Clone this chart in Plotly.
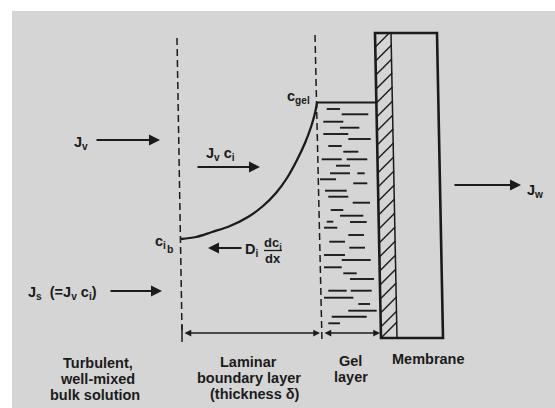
import plotly.graph_objects as go

# ---- diagram data (pixel coordinates of the reference drawing) ----
curve_x = [181, 196, 212, 230, 248, 263, 276, 287, 297, 305, 311, 315, 317]
curve_y = [239, 237, 232, 226, 217, 206, 193, 178, 160, 143, 127, 113, 103]

gel_x0 = [326.7, 341.7, 323.3, 340, 323.3, 348.3, 328.3, 343.3, 321.7, 346.7, 336, 330, 357.3,
          320, 353.3, 325, 328.3, 352.7, 330.7, 340, 326.7, 350, 324, 348.3, 329.3, 349.3,
          324, 341.7, 324, 343.3, 350, 328.3, 350.7, 324, 358.3, 348.3, 331.7, 328.3]
gel_x1 = [340, 368.3, 343.3, 359.3, 348.3, 370.7, 341.7, 358.3, 341.7, 367.3, 350, 350, 364.7,
          336, 367.3, 346.7, 348.3, 370, 343.3, 363.3, 333.3, 366.7, 337.3, 364, 345, 365,
          345, 370.7, 341.7, 356.7, 374, 346.7, 371.7, 353.3, 370, 376.7, 366.7, 340]
gel_y = [109, 114.3, 121.7, 127.7, 134, 139, 146, 151.7, 159.3, 159.3, 165.7, 173.3, 173.3,
         179.3, 183.3, 190.7, 196.7, 202.7, 210, 215.7, 221.7, 222, 227.7, 235, 241.7, 247.7,
         255, 260, 267.3, 273.3, 279, 290.7, 290.7, 297.7, 304, 310.7, 316.7, 323.3]

# lower ends (y) of the membrane hatch strokes
hatch_y = [47, 61, 75, 89, 103, 117, 131, 145, 159, 173, 187, 201, 215, 229, 243, 257,
           271, 285, 299, 313, 327, 338]

bottom_labels = [
    ("Turbulent,", 98, 363), ("well-mixed", 97, 379), ("bulk solution", 95, 395),
    ("Laminar", 248, 362), ("boundary layer", 249, 378), ("(thickness δ)", 255, 394),
    ("Gel", 350, 361), ("layer", 351, 377), ("Membrane", 428, 359),
]

INK = "#1b1b1b"
BG = "#d5d5d5"
FONT = dict(family="Liberation Sans, Arial, sans-serif", size=14, color=INK, weight="bold")

fig = go.Figure()

# curve c(x)
fig.add_trace(go.Scatter(x=curve_x, y=curve_y, mode="lines", line=dict(color=INK, width=2.3, shape="spline"),
                         hoverinfo="skip"))

# gel dashes
gx, gy = [], []
for a, b, y in zip(gel_x0, gel_x1, gel_y):
    gx += [a, b, None]
    gy += [y, y, None]
fig.add_trace(go.Scatter(x=gx, y=gy, mode="lines", line=dict(color=INK, width=1.9), hoverinfo="skip"))

# membrane hatch strip (slightly skewed as in the photo)
def left_edge(y):
    return 375 + 6 * (y - 33) / 305

hx, hy = [], []
for y0 in hatch_y:
    x0 = left_edge(y0)
    d = 16
    y1 = y0 - d
    if y1 < 33:
        d = y0 - 33
        y1 = 33
    hx += [x0, x0 + d, None]
    hy += [y0, y1, None]
fig.add_trace(go.Scatter(x=hx, y=hy, mode="lines", line=dict(color=INK, width=1.4), hoverinfo="skip"))

shapes = [
    dict(type="rect", x0=12, y0=11, x1=556, y1=409, fillcolor=BG, line=dict(width=0), layer="below"),
    # dashed boundaries
    dict(type="line", x0=177, y0=38, x1=182, y1=330, line=dict(color=INK, width=1.5, dash="7px,4px")),
    dict(type="line", x0=315, y0=35, x1=322, y1=342, line=dict(color=INK, width=1.5, dash="7px,4px")),
    dict(type="line", x0=182, y0=325, x1=182, y1=342, line=dict(color=INK, width=1.5)),
    # gel top
    dict(type="line", x0=316, y0=102.5, x1=377, y1=102.5, line=dict(color=INK, width=2)),
    # hatch strip right edge
    dict(type="line", x0=391, y0=33, x1=397, y1=338, line=dict(color=INK, width=1.5)),
    # membrane outline
    dict(type="path", path="M375,33 L437,33 L443,338 L381,338 Z", line=dict(color=INK, width=2.6)),
    # fraction bar
    dict(type="line", x0=264, y0=250.5, x1=282, y1=250.5, line=dict(color=INK, width=1.3)),
]

ann = []
def arrow(x0, y0, x1, y1, w=2, size=1.1, side="end", head=2):
    ann.append(dict(x=x1, y=y1, ax=x0, ay=y0, xref="x", yref="y", axref="x", ayref="y", text="",
                    showarrow=True, arrowhead=head, startarrowhead=head, arrowsize=size,
                    startarrowsize=size, arrowwidth=w, arrowcolor=INK, arrowside=side))

arrow(95, 140, 160, 140)          # Jv
arrow(196, 167, 260, 167)         # Jv ci
arrow(243, 248, 208, 248)         # Di dci/dx
arrow(109, 291, 162, 291)         # Js
arrow(453, 185, 521, 185)         # Jw
arrow(183, 333, 320, 333, w=1.5, size=0.9, side="end+start")
arrow(323, 333, 380, 333, w=1.5, size=0.9, side="end+start")

def label(text, x, y, xanchor="left", size=14.5):
    f = dict(FONT)
    f["size"] = size
    ann.append(dict(x=x, y=y, xref="x", yref="y", text=text, showarrow=False, xanchor=xanchor,
                    yanchor="middle", font=f))

label("J<sub>v</sub>", 72, 143)
label("J<sub>v</sub> c<sub>i</sub>", 204, 154)
label("c<sub>gel</sub>", 285, 97)
label("c<sub>i</sub>", 153, 242)
label("b", 165, 249, size=10.5)
label("D<sub>i</sub>", 243, 250)
label("dc<sub>i</sub>", 273, 243, xanchor="center", size=13)
label("dx", 273, 258, xanchor="center", size=13)
label("J<sub>s</sub>  (=J<sub>v</sub> c<sub>i</sub>)", 26, 293)
label("J<sub>w</sub>", 525, 191)
for t, x, y in bottom_labels:
    label(t, x, y, xanchor="center", size=14.5)

fig.update_layout(
    width=555, height=408, margin=dict(l=0, r=0, t=0, b=0),
    paper_bgcolor="white", plot_bgcolor="white", showlegend=False,
    xaxis=dict(range=[0, 555], visible=False, fixedrange=True),
    yaxis=dict(range=[408, 0], visible=False, fixedrange=True),
    shapes=shapes, annotations=ann,
)
fig.write_html("out.html", config={"displayModeBar": False},
               post_script="document.body.style.margin='0';document.body.style.overflow='hidden';")
